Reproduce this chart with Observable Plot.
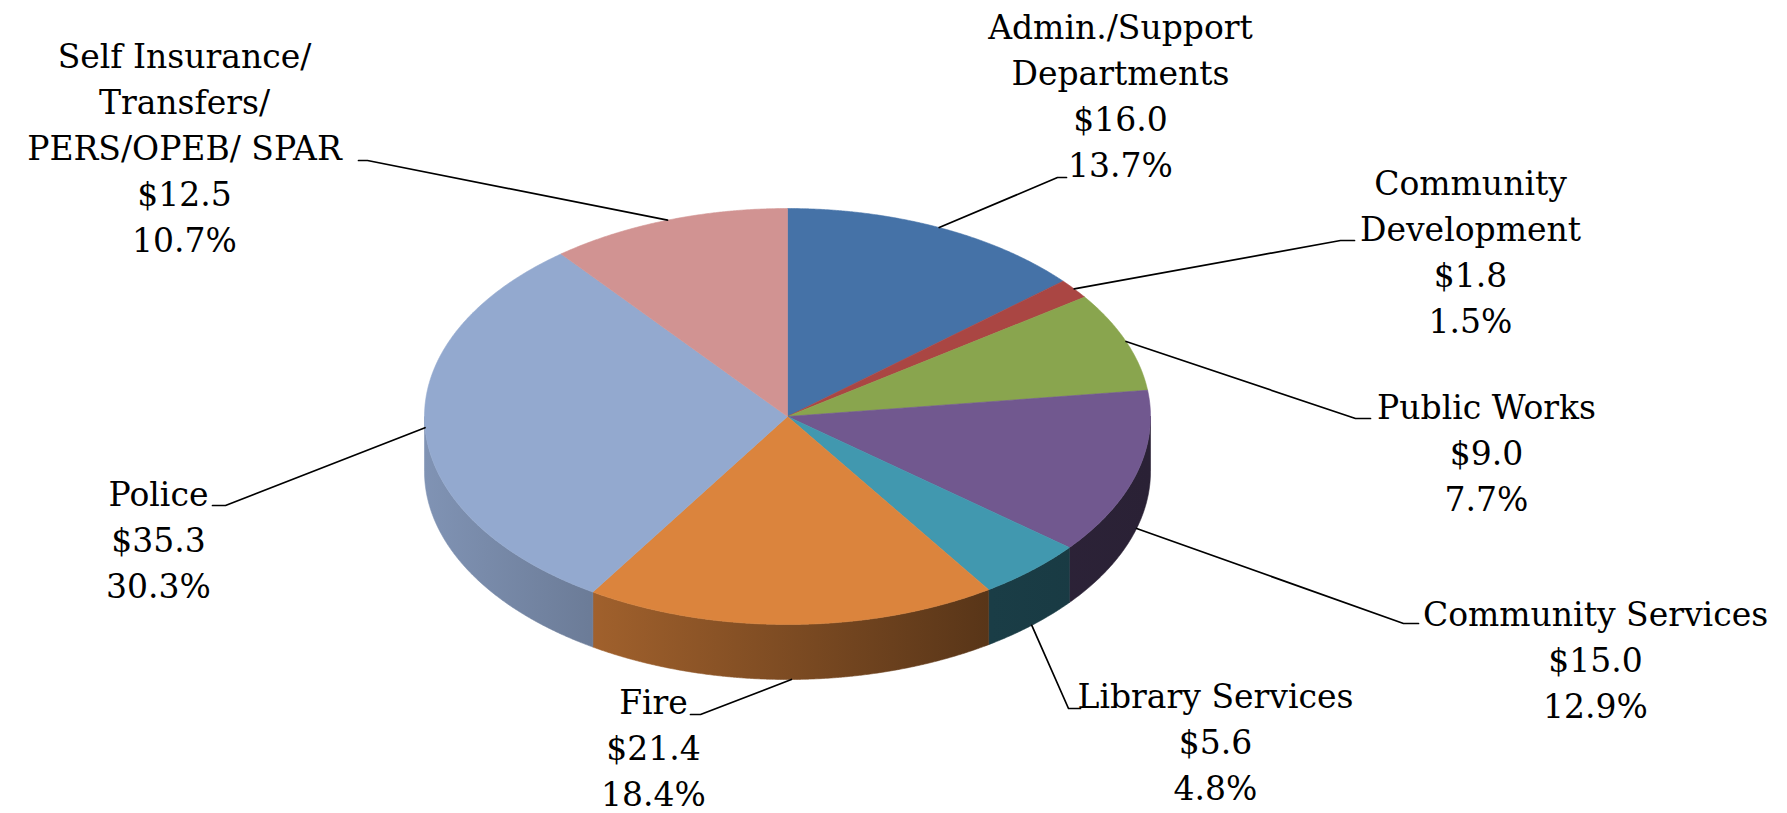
<!DOCTYPE html>
<html>
<head>
<meta charset="utf-8">
<script src="https://cdn.jsdelivr.net/npm/d3@7"></script>
<script src="https://cdn.jsdelivr.net/npm/@observablehq/plot@0.6"></script>
<style>
html, body { margin: 0; padding: 0; background: #ffffff; }
svg { display: block; }
</style>
</head>
<body>
<div id="chart"></div>
<script>
// ---- data ----
const categories = [
  "Admin./Support Departments",
  "Community Development",
  "Public Works",
  "Community Services",
  "Library Services",
  "Fire",
  "Police",
  "Self Insurance/ Transfers/ PERS/OPEB/ SPAR"
];
const labelLines = [
  ["Admin./Support", "Departments"],
  ["Community", "Development"],
  ["Public Works"],
  ["Community Services"],
  ["Library Services"],
  ["Fire"],
  ["Police"],
  ["Self Insurance/", "Transfers/", "PERS/OPEB/ SPAR"]
];
const values = [16.0, 1.8, 9.0, 15.0, 5.6, 21.4, 35.3, 12.5];
const colors = ["#4572A7", "#AA4643", "#89A54E", "#71588F", "#4198AF", "#DB843D", "#93A9CF", "#D19392"];

// ---- layout (styling / placement, not data) ----
const W = 1787, H = 813;
const pieGeom = {cx: 787, cy: 416, rx: 363, ry: 208, depth: 55};
const font = {size: 33, lineStep: 46, family: "'DejaVu Serif', 'Liberation Serif', serif"};
const labelLayout = [
  {cx: 1120, base: 38,  atDepth: 0, elbow: [1057, 177], end: [1066, 177]},
  {cx: 1470, base: 194, atDepth: 0, elbow: [1340, 240], end: [1354, 240]},
  {cx: 1486, base: 418, atDepth: 0, elbow: [1355, 418], end: [1370, 418]},
  {cx: 1595, base: 625, atDepth: 1, elbow: [1403, 623], end: [1418, 623]},
  {cx: 1215, base: 707, atDepth: 1, elbow: [1068, 708], end: [1080, 708]},
  {cx: 653,  base: 713, atDepth: 1, elbow: [700, 714],  end: [690, 714]},
  {cx: 158,  base: 505, atDepth: 0, elbow: [225, 505],  end: [212, 505]},
  {cx: 184,  base: 67,  atDepth: 0, elbow: [367, 160],  end: [358, 160]}
];

// ---- geometry from values ----
const total = d3.sum(values);
const arcs = d3.pie().sort(null).value(d => d).startAngle(0).endAngle(2 * Math.PI)(values);
const {cx, cy, rx, ry, depth} = pieGeom;
const pt = (a, dz = 0) => ({x: cx + rx * Math.sin(a), y: cy - ry * Math.cos(a) + dz});
const STEP = Math.PI / 720;
function arcPts(a0, a1, dz) {
  const out = [];
  const n = Math.max(2, Math.ceil((a1 - a0) / STEP));
  for (let k = 0; k <= n; ++k) out.push(pt(a0 + (a1 - a0) * k / n, dz));
  return out;
}

const marks = [];

// side faces (front half only: angles between 90° and 270°)
arcs.forEach((a, i) => {
  const s = Math.max(a.startAngle, Math.PI / 2);
  const e = Math.min(a.endAngle, 3 * Math.PI / 2);
  if (e <= s) return;
  const poly = [...arcPts(s, e, 0), ...arcPts(s, e, depth).reverse()];
  poly.push(poly[0]);
  marks.push(Plot.line(poly, {x: "x", y: "y", fill: `url(#side${i})`, stroke: `url(#side${i})`, strokeWidth: 0.6, curve: "linear"}));
});

// top faces
arcs.forEach((a, i) => {
  const poly = [{x: cx, y: cy}, ...arcPts(a.startAngle, a.endAngle, 0), {x: cx, y: cy}];
  marks.push(Plot.line(poly, {x: "x", y: "y", fill: colors[i], stroke: colors[i], strokeWidth: 0.6, curve: "linear"}));
});

// leader lines
arcs.forEach((a, i) => {
  const L = labelLayout[i];
  const mid = (a.startAngle + a.endAngle) / 2;
  const p = pt(mid, L.atDepth * depth);
  const pts = [p, {x: L.elbow[0], y: L.elbow[1]}, {x: L.end[0], y: L.end[1]}];
  marks.push(Plot.line(pts, {x: "x", y: "y", stroke: "#000", strokeWidth: 1.7, curve: "linear"}));
});

// labels
const textRows = [];
arcs.forEach((a, i) => {
  const L = labelLayout[i];
  const lines = [...labelLines[i], "$" + values[i].toFixed(1), (values[i] / total * 100).toFixed(1) + "%"];
  lines.forEach((t, k) => textRows.push({x: L.cx, y: L.base + k * font.lineStep - 0.71 * font.size, t}));
});
marks.push(Plot.text(textRows, {
  x: "x", y: "y", text: "t", textAnchor: "middle", lineAnchor: "top",
  fontSize: font.size, fontFamily: font.family, fill: "#000"
}));

const chart = Plot.plot({
  width: W, height: H,
  margin: 0, marginTop: 0, marginRight: 0, marginBottom: 0, marginLeft: 0,
  x: {type: "linear", domain: [0, W], range: [0, W], axis: null},
  y: {type: "linear", domain: [0, H], range: [0, H], axis: null},
  style: {background: "#ffffff", overflow: "visible"},
  marks
});

// gradients for the side walls (lighting: brighter on the left, darker on the right)
const svg = d3.select(chart);
const defs = svg.insert("defs", ":first-child");
const x0 = cx - rx, x1 = cx + rx;
const shade = [[0, 0.87], [0.78, 0.40], [1, 0.37]];
colors.forEach((c, i) => {
  const base = d3.rgb(c);
  const g = defs.append("linearGradient")
    .attr("id", `side${i}`)
    .attr("gradientUnits", "userSpaceOnUse")
    .attr("x1", x0).attr("x2", x1).attr("y1", 0).attr("y2", 0);
  shade.forEach(([o, f]) => {
    g.append("stop").attr("offset", o)
      .attr("stop-color", d3.rgb(base.r * f, base.g * f, base.b * f).formatHex());
  });
});

document.getElementById("chart").appendChild(chart);
</script>
</body>
</html>
